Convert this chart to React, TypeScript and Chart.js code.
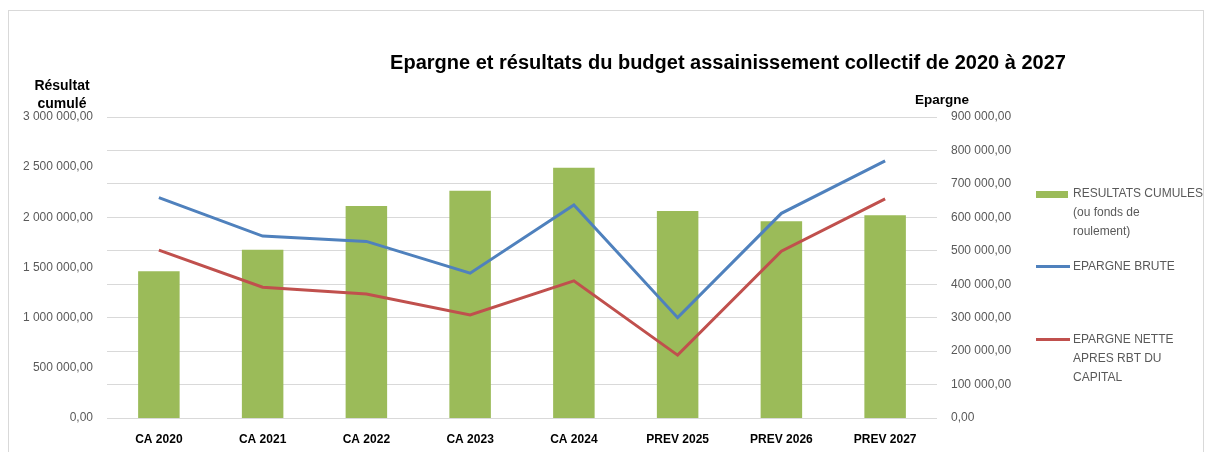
import React, { useEffect, useRef } from "react";
import { Chart, registerables } from "chart.js";

Chart.register(...registerables);

const categories = ["CA 2020", "CA 2021", "CA 2022", "CA 2023", "CA 2024", "PREV 2025", "PREV 2026", "PREV 2027"];
const resultatsCumules = [1462000, 1677000, 2113000, 2265000, 2495000, 2063000, 1960000, 2020000];
const epargneBrute = [659000, 544000, 528000, 433000, 637000, 300000, 612000, 769000];
const epargneNette = [502000, 391000, 371000, 308000, 410000, 188000, 499000, 655000];

const leftMax = 3000000;
const leftStep = 500000;
const rightMax = 900000;
const rightStep = 100000;

const title = "Epargne et résultats du budget assainissement collectif de 2020 à 2027";
const leftAxisTitle = ["Résultat", "cumulé"];
const rightAxisTitle = "Epargne";
const legendBars = ["RESULTATS CUMULES", "(ou fonds de", "roulement)"];
const legendBrute = ["EPARGNE BRUTE"];
const legendNette = ["EPARGNE NETTE", "APRES RBT DU", "CAPITAL"];

const GREEN = "#9BBB59";
const BLUE = "#4F81BD";
const RED = "#C0504D";
const FONT = "'Liberation Sans', Arial, sans-serif";

function fr(v: number): string {
  const s = Number(v).toFixed(2);
  const [i, d] = s.split(".");
  return i.replace(/\B(?=(\d{3})+(?!\d))/g, " ") + "," + d;
}

export default function App() {
  const ref = useRef<HTMLCanvasElement | null>(null);

  useEffect(() => {
    if (!ref.current) return;
    const chart = new Chart(ref.current, {
      type: "bar",
      data: {
        labels: categories,
        datasets: [
          {
            type: "line",
            label: "EPARGNE BRUTE",
            data: epargneBrute,
            borderColor: BLUE,
            backgroundColor: BLUE,
            borderWidth: 3,
            pointRadius: 0,
            tension: 0,
            yAxisID: "y1",
            order: 1,
          },
          {
            type: "line",
            label: "EPARGNE NETTE",
            data: epargneNette,
            borderColor: RED,
            backgroundColor: RED,
            borderWidth: 3,
            pointRadius: 0,
            tension: 0,
            yAxisID: "y1",
            order: 2,
          },
          {
            type: "bar",
            label: "RESULTATS CUMULES",
            data: resultatsCumules,
            backgroundColor: GREEN,
            barPercentage: 0.4,
            categoryPercentage: 1.0,
            yAxisID: "y",
            order: 3,
          },
        ],
      } as any,
      options: {
        responsive: false,
        animation: false,
        layout: { padding: { top: 117, left: 0, right: 0, bottom: 0 } },
        plugins: {
          legend: { display: false },
          tooltip: { enabled: false },
          title: { display: false },
        },
        scales: {
          x: {
            grid: { display: false },
            border: { display: false },
            ticks: {
              color: "#000000",
              font: { family: FONT, size: 12, weight: "bold" },
              padding: 6,
              maxRotation: 0,
            },
            afterFit: (s: any) => {
              s.height = 34;
            },
          },
          y: {
            position: "left",
            min: 0,
            max: leftMax,
            grid: { display: false, drawTicks: false },
            border: { display: false },
            ticks: {
              stepSize: leftStep,
              color: "#595959",
              font: { family: FONT, size: 12 },
              padding: 14,
              callback: (v: any) => fr(v),
            },
            afterFit: (s: any) => {
              s.width = 107;
            },
          },
          y1: {
            position: "right",
            min: 0,
            max: rightMax,
            grid: { display: true, drawTicks: false, color: "#d9d9d9", lineWidth: 1 },
            border: { display: false },
            ticks: {
              stepSize: rightStep,
              color: "#595959",
              font: { family: FONT, size: 12 },
              padding: 14,
              callback: (v: any) => fr(v),
            },
            afterFit: (s: any) => {
              s.width = 271;
            },
          },
        },
      } as any,
    });
    return () => chart.destroy();
  }, []);

  const legendText: React.CSSProperties = {
    position: "absolute",
    fontFamily: FONT,
    fontSize: 12,
    color: "#595959",
    lineHeight: "19px",
    whiteSpace: "nowrap",
  };

  return (
    <div style={{ position: "absolute", left: 0, top: 0, width: 1208, height: 452, overflow: "hidden", background: "#fff" }}>
      <div
        style={{
          position: "absolute",
          left: 8,
          top: 10,
          width: 1196,
          height: 470,
          border: "1px solid #d9d9d9",
          boxSizing: "border-box",
        }}
      />
      <canvas ref={ref} width={1208} height={452} style={{ position: "absolute", left: 0, top: 0 }} />
      <div
        style={{
          position: "absolute",
          left: 328,
          width: 800,
          top: 51,
          textAlign: "center",
          fontFamily: FONT,
          fontWeight: "bold",
          fontSize: 20,
          color: "#000",
          whiteSpace: "nowrap",
        }}
      >
        {title}
      </div>
      <div
        style={{
          position: "absolute",
          left: 22,
          width: 80,
          top: 76,
          textAlign: "center",
          fontFamily: FONT,
          fontWeight: "bold",
          fontSize: 14,
          lineHeight: "18px",
          color: "#000",
        }}
      >
        {leftAxisTitle.map((t, i) => (
          <div key={i}>{t}</div>
        ))}
      </div>
      <div
        style={{
          position: "absolute",
          left: 915,
          top: 92,
          fontFamily: FONT,
          fontWeight: "bold",
          fontSize: 13.5,
          color: "#000",
        }}
      >
        {rightAxisTitle}
      </div>
      {/* legend */}
      <div style={{ position: "absolute", left: 1036, top: 191, width: 32, height: 7, background: GREEN }} />
      <div style={{ ...legendText, left: 1073, top: 184 }}>
        {legendBars.map((t, i) => (
          <div key={i}>{t}</div>
        ))}
      </div>
      <div style={{ position: "absolute", left: 1036, top: 265, width: 34, height: 3, background: BLUE }} />
      <div style={{ ...legendText, left: 1073, top: 257 }}>
        {legendBrute.map((t, i) => (
          <div key={i}>{t}</div>
        ))}
      </div>
      <div style={{ position: "absolute", left: 1036, top: 338, width: 34, height: 3, background: RED }} />
      <div style={{ ...legendText, left: 1073, top: 330 }}>
        {legendNette.map((t, i) => (
          <div key={i}>{t}</div>
        ))}
      </div>
    </div>
  );
}
